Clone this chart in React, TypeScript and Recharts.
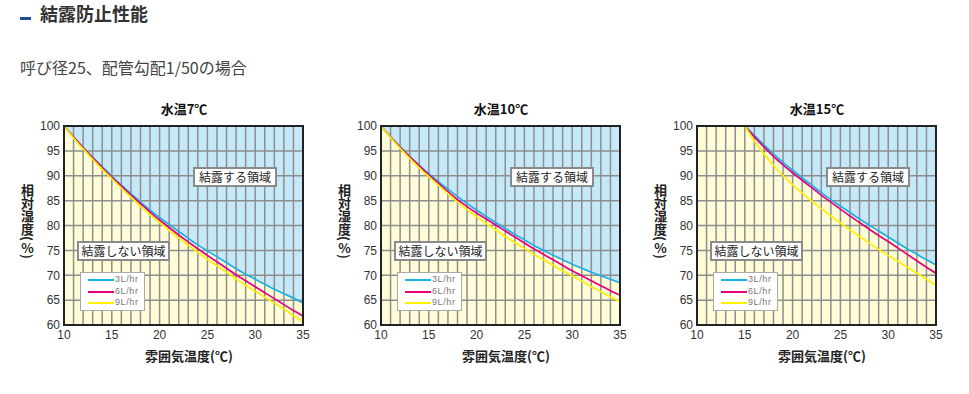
import React from 'react';
import { ComposedChart, Area, Line, XAxis, YAxis, CartesianGrid, ReferenceArea, Legend } from 'recharts';

// ambient temperature (°C) along the x axis
const TEMPS = [10, 11, 12, 13, 14, 15, 16, 17, 18, 19, 20, 21, 22, 23, 24, 25, 26, 27, 28, 29, 30, 31, 32, 33, 34, 35];
const Y_TICKS = [60, 65, 70, 75, 80, 85, 90, 95, 100];
const FLOW_NAMES = ['3L/hr', '6L/hr', '9L/hr'];
const FLOW_COLORS = ['#1ab0e6', '#e5007f', '#fff000'];

// relative humidity limits (%), water temperature 7°C
const W7_3L = [100, 97.8, 95.7, 93.7, 91.8, 89.9, 88.1, 86.4, 84.7, 83.1, 81.6, 80.2, 78.8, 77.4, 76.1, 74.9, 73.7, 72.5, 71.3, 70.2, 69.2, 68.2, 67.2, 66.3, 65.4, 64.4];
const W7_6L = [100, 97.8, 95.6, 93.6, 91.6, 89.7, 87.9, 86.1, 84.4, 82.7, 81.1, 79.6, 78.1, 76.7, 75.3, 74.0, 72.7, 71.4, 70.1, 68.9, 67.7, 66.5, 65.3, 64.1, 62.9, 61.8];
const W7_9L = [100, 97.6, 95.4, 93.3, 91.3, 89.4, 87.5, 85.7, 83.9, 82.2, 80.6, 79.0, 77.5, 76.0, 74.6, 73.2, 71.9, 70.6, 69.3, 68.0, 66.8, 65.6, 64.4, 63.2, 61.9, 60.7];

// water temperature 10°C
const W10_3L = [100, 97.8, 95.8, 93.9, 92.1, 90.4, 88.8, 87.3, 85.8, 84.4, 83.1, 81.8, 80.6, 79.4, 78.2, 77.1, 76.0, 75.0, 74.0, 73.1, 72.2, 71.4, 70.6, 69.9, 69.2, 68.5];
const W10_6L = [100, 97.8, 95.7, 93.8, 92.0, 90.2, 88.5, 86.8, 85.2, 83.8, 82.5, 81.3, 80.1, 78.9, 77.7, 76.5, 75.3, 74.2, 73.1, 72.0, 70.9, 69.9, 68.9, 67.9, 66.9, 66.0];
const W10_9L = [100, 97.7, 95.5, 93.5, 91.6, 89.8, 88.1, 86.4, 84.7, 83.2, 81.8, 80.4, 79.1, 77.8, 76.6, 75.4, 74.2, 73.1, 72.0, 70.9, 69.9, 68.8, 67.7, 66.7, 65.7, 64.7];

// water temperature 15°C (curves start at 15°C)
const W15_3L = [null, null, null, null, null, 100, 98.1, 96.2, 94.4, 92.7, 91.1, 89.6, 88.1, 86.6, 85.2, 83.9, 82.6, 81.3, 80.1, 78.9, 77.7, 76.5, 75.3, 74.2, 73.1, 72.1];
const W15_6L = [null, null, null, null, null, 100, 97.8, 95.8, 93.9, 92.2, 90.6, 89.1, 87.6, 86.1, 84.7, 83.3, 81.9, 80.6, 79.3, 78.0, 76.8, 75.5, 74.2, 72.9, 71.6, 70.4];
const W15_9L = [null, null, null, null, null, 100, 97.0, 94.4, 92.1, 90.0, 88.2, 86.5, 84.9, 83.4, 81.9, 80.5, 79.1, 77.8, 76.5, 75.2, 74.0, 72.8, 71.6, 70.4, 69.2, 68.0];

const JP = '"Noto Sans CJK JP", "Noto Sans", sans-serif';
const NUM = '"Liberation Sans", Arial, sans-serif';
const BLUE_BG = '#c6e9f9';
const CREAM_BG = '#fffcd8';
const Y_AXIS_W = 64;
const PLOT_W = 239;

type Series = (number | null)[];

const LegendBox = (props: any) => {
  const items = (props.payload || []).filter((p: any) => p.type !== 'none');
  return (
    <div style={{ width: 65, height: 39, boxSizing: 'border-box', border: '1px solid #aaa', background: '#fff', paddingTop: 1 }}>
      {items.map((p: any) => (
        <div key={p.value} style={{ position: 'relative', height: 11.7 }}>
          <div style={{ position: 'absolute', left: 6.5, top: 5, width: 26, height: 2, background: p.color }} />
          <div style={{ position: 'absolute', left: 34, top: 0, fontFamily: NUM, fontSize: 9, lineHeight: '11.7px', color: '#777', letterSpacing: 0.6 }}>
            {p.value}
          </div>
        </div>
      ))}
    </div>
  );
};

const boxStyle: React.CSSProperties = {
  position: 'absolute',
  boxSizing: 'border-box',
  background: '#fff',
  border: '2px solid #8a8a8a',
  fontFamily: JP,
  fontSize: 12,
  color: '#222',
  textAlign: 'center',
};

function HumidityChart({ title, plotLeft, c3, c6, c9 }: { title: string; plotLeft: number; c3: Series; c6: Series; c9: Series }) {
  const data = TEMPS.map((t, i) => ({ t, a: c3[i], b: c6[i], c: c9[i], safe: c3[i] ?? 100 }));
  const lines = [c3, c6, c9];
  const keys = ['a', 'b', 'c'];
  return (
    <>
      <div style={{ position: 'absolute', left: plotLeft - 4, width: 256, top: 101, textAlign: 'center', transform: 'translateX(-4px)', fontFamily: JP, fontWeight: 700, fontSize: 13, lineHeight: '16px', color: '#111' }}>
        {title}
      </div>
      <div style={{ position: 'absolute', left: plotLeft - Y_AXIS_W, top: 95 }}>
        <ComposedChart width={Y_AXIS_W + PLOT_W + 10} height={260} data={data} margin={{ top: 31, right: 10, bottom: 0, left: 0 }}>
          <ReferenceArea x1={10} x2={35} y1={60} y2={100} fill={BLUE_BG} fillOpacity={1} stroke="none" zIndex={0} />
          <Area type="monotone" dataKey="safe" stroke="none" fill={CREAM_BG} fillOpacity={1} legendType="none" isAnimationActive={false} activeDot={false} zIndex={10} />
          <CartesianGrid stroke="#8e8e8e" strokeWidth={1.5} zIndex={20} />
          <XAxis
            type="number"
            dataKey="t"
            domain={[10, 35]}
            ticks={TEMPS}
            interval={0}
            tickFormatter={(v: number) => (v % 5 === 0 ? String(v) : '')}
            axisLine={false}
            tickLine={false}
            tickSize={0}
            tickMargin={5}
            height={30}
            tick={{ fontSize: 12, fill: '#333', fontFamily: NUM }}
          />
          <YAxis
            type="number"
            domain={[60, 100]}
            ticks={Y_TICKS}
            interval={0}
            width={Y_AXIS_W}
            axisLine={false}
            tickLine={false}
            tickSize={0}
            tickMargin={4}
            tick={{ fontSize: 12, fill: '#333', fontFamily: NUM }}
          />
          {lines.map((_, i) => (
            <Line
              key={keys[i]}
              type="monotone"
              dataKey={keys[i]}
              name={FLOW_NAMES[i]}
              stroke={FLOW_COLORS[i]}
              strokeWidth={1.7}
              dot={false}
              activeDot={false}
              isAnimationActive={false}
              zIndex={30 + i}
            />
          ))}
          <ReferenceArea x1={10} x2={35} y1={60} y2={100} fill="none" stroke="#222" strokeWidth={2} zIndex={50} />
          <Legend
            layout="horizontal"
            verticalAlign="middle"
            align="center"
            content={LegendBox}
            wrapperStyle={{ left: Y_AXIS_W + 16, top: 177, width: 65, height: 39 }}
          />
        </ComposedChart>
      </div>
      <div style={{ ...boxStyle, left: plotLeft + 129, top: 167, width: 84, height: 20, lineHeight: '16px' }}>結露する領域</div>
      <div style={{ ...boxStyle, left: plotLeft + 13, top: 241, width: 93, height: 20, lineHeight: '16px' }}>結露しない領域</div>
      <div style={{ position: 'absolute', left: plotLeft + 125 - 60, width: 120, top: 348, textAlign: 'center', fontFamily: JP, fontWeight: 700, fontSize: 13, lineHeight: '16px', color: '#222' }}>
        雰囲気温度(℃)
      </div>
      <div style={{ position: 'absolute', left: plotLeft - 45, top: 184, width: 16, writingMode: 'vertical-rl', fontFamily: JP, fontWeight: 700, fontSize: 13, lineHeight: '16px', color: '#222' }}>
        相対湿度(<span style={{ textCombineUpright: 'all' } as React.CSSProperties}>%</span>)
      </div>
    </>
  );
}

export default function App() {
  return (
    <div style={{ position: 'absolute', left: 0, top: 0, width: 969, height: 394, background: '#fff', overflow: 'hidden' }}>
      <div style={{ position: 'absolute', left: 20, top: 17, width: 11, height: 3, background: '#1f4e9a' }} />
      <div style={{ position: 'absolute', left: 40, top: 3, fontFamily: JP, fontWeight: 700, fontSize: 18, lineHeight: '20px', color: '#333' }}>
        結露防止性能
      </div>
      <div style={{ position: 'absolute', left: 20, top: 58, fontFamily: JP, fontSize: 16, lineHeight: '18px', color: '#444' }}>
        呼び径25、配管勾配1/50の場合
      </div>
      <HumidityChart title="水温7℃" plotLeft={64} c3={W7_3L} c6={W7_6L} c9={W7_9L} />
      <HumidityChart title="水温10℃" plotLeft={381} c3={W10_3L} c6={W10_6L} c9={W10_9L} />
      <HumidityChart title="水温15℃" plotLeft={697} c3={W15_3L} c6={W15_6L} c9={W15_9L} />
    </div>
  );
}
